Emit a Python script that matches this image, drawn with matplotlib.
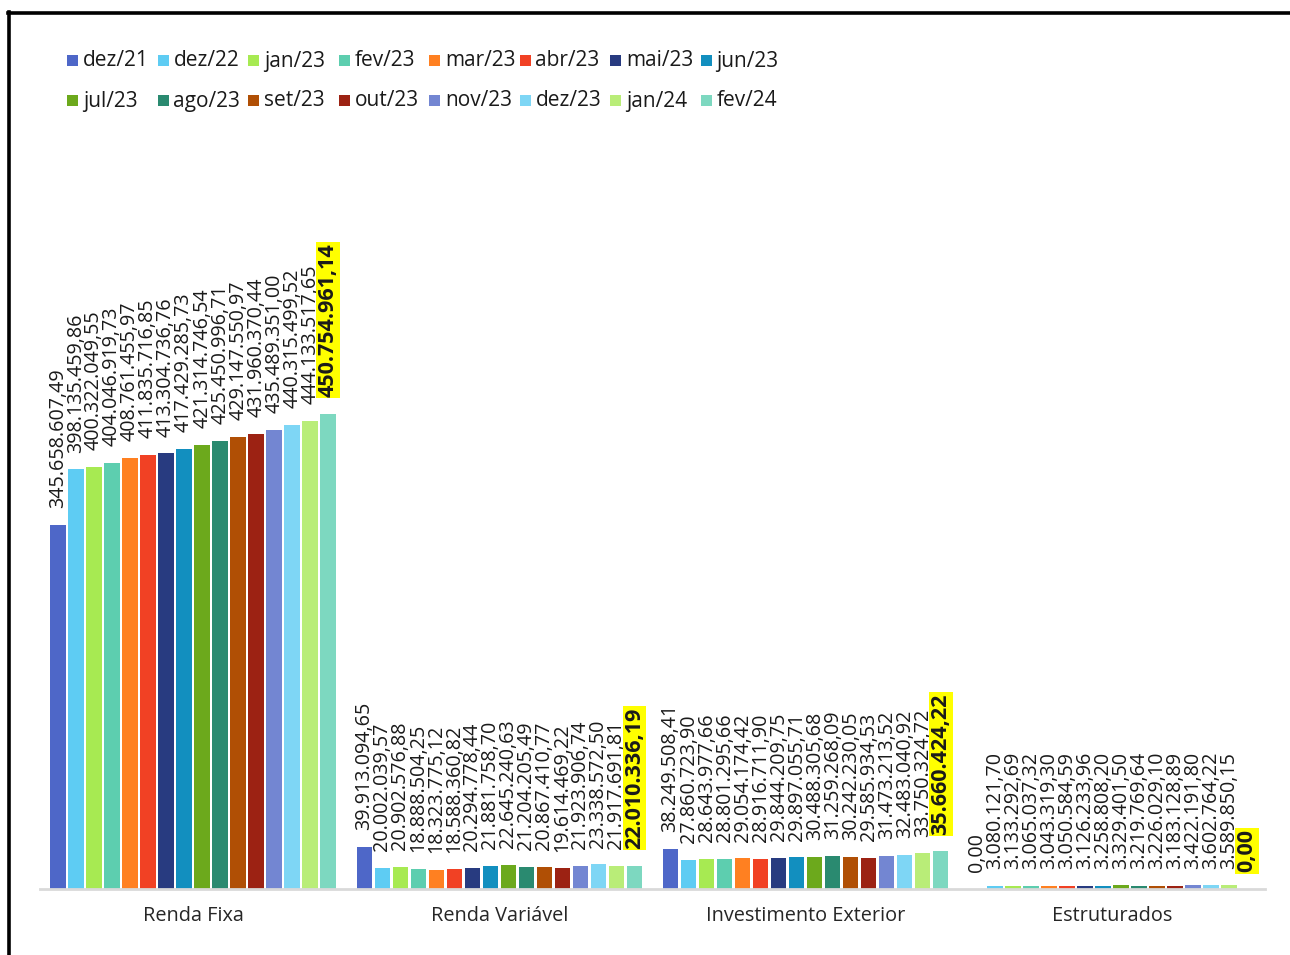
import matplotlib.pyplot as plt
from matplotlib.lines import Line2D
from matplotlib.patches import Rectangle

plt.rcParams["font.family"] = ["Open Sans", "DejaVu Sans"]

categories = ["Renda Fixa", "Renda Variável", "Investimento Exterior", "Estruturados"]

periods = [
    "dez/21", "dez/22", "jan/23", "fev/23", "mar/23", "abr/23", "mai/23", "jun/23",
    "jul/23", "ago/23", "set/23", "out/23", "nov/23", "dez/23", "jan/24", "fev/24",
]

colors = [
    "#4E67C8", "#5ECCF3", "#A7EA52", "#5DCEAF", "#FF8021", "#F14124", "#283B80", "#128FBF",
    "#6CA91C", "#2A8A70", "#B04F05", "#9C2213", "#7386D2", "#7ED6F5", "#B9ED78", "#7DD8C0",
]

renda_fixa = [
    345658607.49, 398135459.86, 400322049.55, 404046919.73, 408761455.97, 411835716.85,
    413304736.76, 417429285.73, 421314746.54, 425450996.71, 429147550.97, 431960370.44,
    435489351.00, 440315499.52, 444133517.65, 450754961.14,
]
renda_variavel = [
    39913094.65, 20002039.57, 20902576.88, 18888504.25, 18323775.12, 18588360.82,
    20294778.44, 21881758.70, 22645240.63, 21204205.49, 20867410.77, 19614469.22,
    21923906.74, 23338572.50, 21917691.81, 22010336.19,
]
invest_exterior = [
    38249508.41, 27860723.90, 28643977.66, 28801295.66, 29054174.42, 28916711.90,
    29844209.75, 29897055.71, 30488305.68, 31259268.09, 30242230.05, 29585934.53,
    31473213.52, 32483040.92, 33750324.72, 35660424.22,
]
estruturados = [
    0.00, 3080121.70, 3133292.69, 3065037.32, 3043319.30, 3050584.59,
    3126233.96, 3258808.20, 3329401.50, 3219769.64, 3226029.10, 3183128.89,
    3422191.80, 3602764.22, 3589850.15, 0.00,
]

values_by_category = [renda_fixa, renda_variavel, invest_exterior, estruturados]


def brl(value):
    text = f"{value:,.2f}"
    return text.replace(",", "#").replace(".", ",").replace("#", ".")


W, H = 1290, 955
fig = plt.figure(figsize=(W / 100, H / 100), dpi=100)

# plot area in pixel coordinates of the reference
left_px, right_px, base_px, top_px = 40, 1265, 889, 130
ax = fig.add_axes([
    left_px / W, (H - base_px) / H,
    (right_px - left_px) / W, (base_px - top_px) / H,
])

slot = 18 / 306
bar_width = 15.5 / 306
n = len(periods)

for j, period in enumerate(periods):
    xs = [i + (j - (n - 1) / 2) * slot for i in range(len(categories))]
    heights = [values[j] for values in values_by_category]
    ax.bar(xs, heights, width=bar_width, color=colors[j], label=period, zorder=2)
    for x, h in zip(xs, heights):
        last = j == n - 1
        ax.annotate(
            brl(h), (x, h), xytext=(0, 12), textcoords="offset points",
            rotation=90, ha="center", va="bottom",
            fontsize=15.5 if last else 14.2, color="#1a1a1a",
            fontweight="bold" if last else "normal",
            bbox=dict(facecolor="#FFFF00", edgecolor="none", pad=1) if last else None,
        )

ax.set_xlim(-0.5, len(categories) - 0.5)
ax.set_ylim(0, 720e6)
ax.set_xticks(range(len(categories)))
ax.set_xticklabels(categories, fontsize=14.3, color="#262626")
ax.tick_params(axis="x", length=0, pad=12)
ax.set_yticks([])
for side in ["left", "right", "top"]:
    ax.spines[side].set_visible(False)
ax.spines["bottom"].set_color("#D9D9D9")
ax.spines["bottom"].set_linewidth(2)

# legend drawn as a grid, like the Excel original
for k, (period, color) in enumerate(zip(periods, colors)):
    row, col = divmod(k, 8)
    x0 = 67 + col * 90.5
    yc = 61 + row * 40
    fig.add_artist(Rectangle(
        (x0 / W, 1 - (yc + 5.5) / H), 11 / W, 11 / H,
        transform=fig.transFigure, facecolor=color, edgecolor="none",
    ))
    fig.text((x0 + 16) / W, 1 - yc / H, period, fontsize=15, color="#1a1a1a",
             ha="left", va="center")

# frame of the screenshot
fig.add_artist(Line2D([8 / W, 1], [1 - 13.5 / H, 1 - 13.5 / H],
                      transform=fig.transFigure, color="black", linewidth=2.6))
fig.add_artist(Line2D([8.5 / W, 8.5 / W], [0, 1 - 12 / H],
                      transform=fig.transFigure, color="black", linewidth=2.6))

fig.savefig("out.png", dpi=100)
